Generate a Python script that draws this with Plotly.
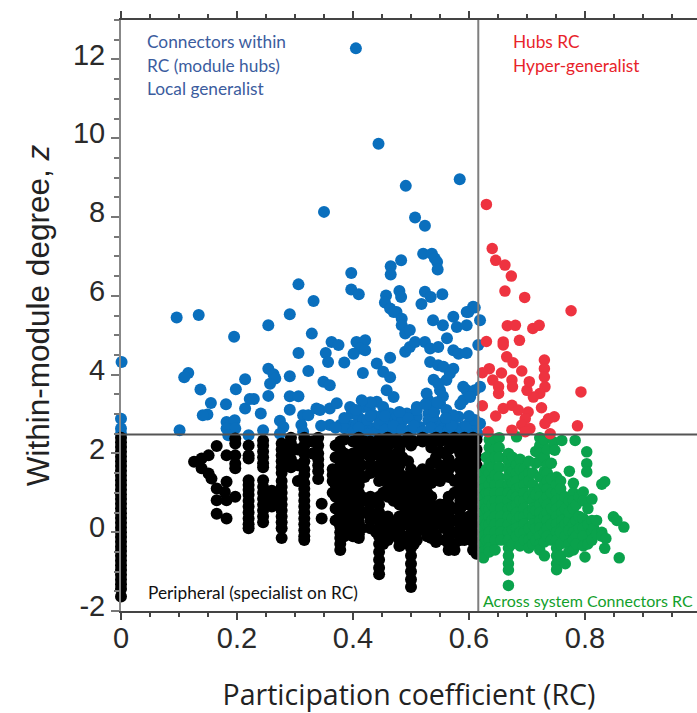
import plotly.graph_objects as go

blue_x = [.405,.444,.491,.584,.35,.507,.524,.521,.536,.541,.545,.546,.483,.465,.465,.397,.306,.397,.41,.457,.455,.48,.483,.524,.534,.554,.518,.332,.607,.596,.464,.475,
 .096,.134,.291,.254,.195,.329,.47,.484,.484,.49,.498,.538,.555,.573,.579,.596,.599,.61,.619,.616,.363,.375,.406,.421,.412,.401,.421,.306,.353,.357,.385,.464,.441,.452,.464,.417,
 .49,.498,.507,.524,.533,.547,.562,.573,.582,.596,.533,.547,.556,.573,.561,.539,.55,.567,.547,.001,.116,.109,.137,.214,.198,.254,.263,.266,.257,.254,.291,.323,.291,.306,.349,.36,
 .155,.149,.141,.181,.214,.222,.229,.241,.291,.101,0,0,0,.182,.196,.182,.197,.185,.22,.245,.274,.28,.274,.314,.323,.311,.314,.337,.343,.36,.372,.36,.378,.395,.386,
 .395,.398,.409,.418,.429,.441,.452,.458,.47,.464,.406,.423,.435,.418,.435,.45,.475,.493,.51,.53,.53,.55,.561,.582,.59,.596,.61,.619,.59,.602,
 .481,.498,.515,.53,.544,.562,.573,.59,.607,.619,.51,.538,.556,.573,.484,.458,.478,.527,.533,.44,.5,.52,.545,.585,.6,.615,.425,.49,.465,
 .345,.37,.385,.40,.41,.425,.445,.455,.47,.485,.495,.505,.52,.535,.55,.565,.58,.595,.61,.43,.455,.48,.51,.54,.57,.6,.525,.555,.585,.43,.415,.405,.545,.56]
blue_y = [12.28,9.86,8.79,8.96,8.13,7.99,7.78,7.07,7.07,6.95,6.86,6.67,6.9,6.75,6.54,6.58,6.29,6.16,6.04,6.01,5.83,6.12,5.97,6.1,5.97,6.04,5.79,5.87,5.72,5.59,5.68,5.59,
 5.45,5.51,5.53,5.25,4.96,5.04,5.59,5.42,5.25,5.04,5.13,5.38,5.25,5.47,5.21,5.25,5.59,5.7,5.38,4.75,4.83,4.75,4.83,4.87,4.66,4.53,4.62,4.55,4.55,4.32,4.31,4.43,4.28,4.07,3.93,4.04,
 4.58,4.7,4.83,4.83,4.66,4.7,4.92,4.62,4.53,4.55,4.32,4.24,4.2,4.15,3.86,3.87,3.6,4.03,3.77,4.32,4.04,3.93,3.62,3.88,3.63,4.15,4.01,3.9,3.77,3.46,3.96,4.09,3.45,3.45,3.82,3.73,
 3.28,2.99,2.97,3.25,3.14,3.38,3.38,3.01,3.11,2.59,2.88,2.63,2.5,2.8,2.84,2.63,2.63,2.46,2.46,2.59,2.83,2.67,2.5,2.97,2.97,2.72,2.55,3.14,3.1,3.14,3.27,2.72,2.72,2.72,2.63,
 3.18,3.01,2.93,3.18,3.14,3.31,3.18,3.6,3.43,3.01,2.72,2.72,2.63,2.84,2.97,2.97,2.93,3.01,3.18,3.35,3.01,3.27,3.1,2.93,3.35,3.6,3.6,3.69,3.69,3.43,
 2.67,2.59,2.67,2.84,2.8,2.84,2.72,2.67,2.63,2.76,2.93,2.93,2.63,2.97,2.8,2.84,2.55,3.52,3.27,2.55,2.55,2.55,2.5,2.5,2.5,2.5,2.5,2.55,2.55,
 2.7,2.65,2.9,2.55,2.65,2.85,2.75,2.6,2.7,2.6,2.9,2.7,2.55,2.65,2.55,2.6,2.55,2.7,2.85,3.3,2.95,3.05,3.1,3.05,2.7,2.95,3.25,3.45,3.25,2.95,3.35,3.1,3.3,2.9]

red_x = [.63,.64,.646,.662,.673,.662,.696,.776,.666,.68,.71,.721,.63,.659,.659,.687,.665,.676,.691,.73,.73,.73,.731,.722,.711,.7,.704,.635,.623,.656,.641,.651,.651,.674,.675,
 .623,.674,.659,.646,.685,.702,.697,.691,.705,.674,.697,.725,.737,.747,.731,.787,.793,.633,.74]
red_y = [8.32,7.2,6.9,6.78,6.5,6.12,5.96,5.62,5.24,5.25,5.17,5.25,4.84,4.83,4.75,4.87,4.45,4.3,4.09,4.37,4.15,3.94,3.69,3.52,3.43,3.6,3.82,4.15,4.05,4.04,3.86,3.69,3.52,3.86,3.69,
 3.21,3.22,3.14,2.95,3.1,3.05,2.88,2.72,2.63,2.59,2.55,3.16,2.88,2.93,2.76,2.7,3.56,2.55,2.5]

black_columns = [
 (0.0, [2.4,2.28,2.16,2.04,1.92,1.8,1.68,1.56,1.44,1.32,1.2,1.08,.96,.84,.72,.6,.48,.36,.24,.12,0,-.12,-.24,-.36,-.48,-.6,-.72,-.84,-.96,-1.08,-1.2,-1.32,-1.44,-1.63]),
 (.126,[1.79]),(.139,[1.87,1.62]),(.151,[1.95,1.49]),(.156,[1.36]),(.165,[2.19,1.11,.81,.47]),
 (.182,[1.95,1.28,.81,.35]),(.179,[1.02]),(.197,[2.38,2.25,1.95,1.74,1.62,.9]),
 (.22,[2.2,1.95,1.87,1.32,1.2,1.08,.95,.8,.65,.5,.35,.2,.1]),
 (.245,[2.33,2.2,2.05,1.9,1.75,1.65,1.32,1.15,1.0,.85,.7,.55,.4,.25]),
 (.26,[1.05,.9,.75,.65]),
 (.277,[2.25,2.1,1.95,1.8,1.65,1.5,1.3,1.15,1.0,.85,.7,.55,.4,.25,.1,-.15]),
 (.293,[2.4,2.25,2.05,1.85,1.65]),(.305,[2.1,1.7,1.3]),
 (.316,[2.4,2.2,2.0,1.8,1.6,1.45,1.25,1.1,.95,.8,.65,.5,.35,.2,.05,-.1,-.2]),
 (.33,[2.3,2.0]),(.34,[2.4,2.2,2.0,1.85,1.7,1.55,1.35]),(.346,[.72,.35]),(.365,[1.6,1.45,1.3,1.0]),
 (.37,[2.2,1.9,1.2,.9,.6,.3]),
 (.378,[2.3,2.1,1.8,1.65,1.5,1.35,1.2,1.05,.9,.75,.6,.45,.3,.15,0,-.15,-.3,-.45]),
 (.385,[2.35,2.0,1.6,1.3,1.0,.7,.4,.1,-.1]),
 (.395,[1.9,1.7,1.5,1.3,1.1,.9,.7,.5,.3]),
 (.40,[2.3,2.0,1.1,.7,.3,.05,-.1]),
 (.41,[2.4,2.2,2.0,1.8,1.6,1.4,1.2,1.0,.8,.6,.4,.25,.1,-.05,-.15]),
 (.415,[2.1,1.7,.9,.5,.1]),
 (.42,[2.3,2.0,1.4,.8,.5]),
 (.43,[2.3,2.1,1.9,1.7,1.5,.9,.7,.5,.3,.1]),
 (.44,[.8,.4,0]),
 (.445,[2.35,2.15,1.95,1.7,1.5,1.3,.9,.7,.5,.3,.1,-.1,-.3,-.5,-.7,-.9,-1.07]),
 (.452,[2.3,2.0,1.7,1.4,1.0,.3,0,-.3]),
 (.46,[2.4,2.2,2.0,1.8,1.6,1.3,1.1,.9,.4,.2,0,-.2]),
 (.465,[2.25,1.7,1.35,1.0,.3,-.1]),
 (.47,[1.9,1.5,1.2,.8,.1]),
 (.475,[2.35,2.0,1.6,.25,-.05]),
 (.48,[2.3,2.1,1.7,1.5,1.3,1.1,.9,.7,.4,.2,0,-.2,-.35]),
 (.485,[1.9,1.2,.8,.3,-.1,-.3]),
 (.49,[2.3,1.4,1.0,.6,.2]),
 (.495,[2.4,1.8,1.2,.5,-.1]),
 (.5,[2.2,1.6,1.4,1.2,1.0,.8,.6,.4,.2,0,-.2,-.4,-.6,-.8,-1.0,-1.2,-1.39]),
 (.505,[2.3,1.5,.9,.5,.1,-.3]),
 (.51,[1.3,1.0,.7,.3,0,-.2]),
 (.515,[1.5,1.1,.6,.2]),
 (.52,[2.4,2.3,1.6,1.4,1.2,.9,.7,.5,.3,.1]),
 (.528,[1.5,1.0,.6,.2,-.1]),
 (.535,[2.35,2.15,1.75,1.5,1.25,.9,.7,.4,.2,0,-.15]),
 (.543,[2.4,1.9,1.4,.6,.2,-.05,-.25]),
 (.55,[2.3,2.05,1.7,1.5,1.3,.7,.5,.3]),
 (.558,[2.4,2.0,1.6,.7,.4,.1,-.2]),
 (.565,[2.3,2.1,1.85,1.6,1.4,.9,.7,.5,.3,.1,-.1,-.3,-.45]),
 (.575,[2.4,2.15,1.7,1.3,1.0,.6,.3,0,-.3,-.45]),
 (.585,[2.3,2.0,1.8,1.6,1.4,1.2,1.0,.8,.6,.4,.2,0,-.2]),
 (.592,[2.4,2.15,1.7,1.3,1.0,.7,.3,0,-.2]),
 (.6,[2.3,2.1,1.9,1.65,1.45,1.1,.9,.7,.4,.1,-.1]),
 (.607,[2.4,2.0,1.5,1.2,.8,.5,.2,0,-.25,-.45]),
 (.613,[2.35,2.1,1.9,1.7,1.5,1.3,1.1,.9,.7,.5,.3,.1,-.1,-.3,-.55]),
]

green_columns = [
 (.625,[1.5,1.3,1.1,.9,.7,.5,.3,.1,-.1,-.3,-.5,-.65]),
 (.63,[1.9,1.6,1.0,.6,.2,-.2]),
 (.635,[2.35,2.15,1.95,1.75,1.5,1.2,1,.8,.6,.4,.2,0,-.2,-.4,-.5]),
 (.64,[2.25,1.65,1.35,.7,.3]),
 (.645,[2.35,2.1,1.9,1.45,1.2,1,.8,.6,.4,.2,0,-.2,-.45]),
 (.652,[2.4,2.15,1.9,1.65,1.4]),
 (.655,[1.2,1,.8,.6,.4,.2,0,-.2]),
 (.668,[2.0,1.8,1.6,1.4,1.2,1,.8,.6,.4,.2,0,-.2,-.4,-.6,-.8,-.96,-1.35]),
 (.675,[1.9,1.55,1.25,.95,.65,.35,.05,-.3]),
 (.682,[2.42,1.7,1.5,1.3,1.1,.9,.7,.5,.3,.1,-.1]),
 (.688,[1.85,1.6,1.15,.8,.4,0,-.35]),
 (.695,[1.6,1.4,1.2,1,.8,.6,.4,.2,0,-.2]),
 (.703,[1.8,1.5,1.3,.9,.5,.1,-.2,-.4]),
 (.71,[1.5,1.2,1,.8,.6,.4,.2,-.1,-.3]),
 (.715,[2.05,1.75,.95,.55,.1,-.2]),
 (.722,[2.4,2.2,2,1.8,1.4,1.1,.9,.7,.5,.3,.1,-.1,-.3,-.45]),
 (.73,[2.35,1.9,1.55,1.2,.8,.4,0,-.25,-.6]),
 (.735,[2.1,1.7,1.5,1.3,1.1,.9,.7,.5,.3,.1,-.1]),
 (.742,[1.75,1.35,1.0,.6,.2,-.2]),
 (.751,[1.4,1.2,1,.8,.6,.4,.2,0,-.2,-.4,-.6,-.8,-.95]),
 (.746,[2.29]),(.748,[2.08]),(.76,[2.33,.9,.7,.5,.3,.1]),(.758,[1.3,1.1,0,-.3,-.6]),
 (.766,[.9,.6,.2,-.1,-.8]),(.772,[.3,.05,-.3,-.5]),(.773,[1.55,.8,.5]),(.78,[1.24,1,.8,.6,.2,0,-.2,-.45]),
 (.783,[2.33]),(.785,[.7,.3,-.1,-.3]),(.79,[.9,.4,.1]),(.797,[1.02,.8,.35,.1,-.1,-.35]),(.8,[-.63]),
 (.803,[2.04,1.74,1.53]),(.805,[.6,.2,-.3]),(.812,[.84,.3,0,-.2]),(.815,[.1]),(.82,[.3,-.05]),(.829,[1.22,0,-.1]),
 (.834,[1.28,-.41]),(.836,[-.16]),(.849,[.39]),(.859,[-.65]),(.867,[.13]),(.855,[.3]),
]

black_x = [x for x, ys in black_columns for _ in ys]
black_y = [y for _, ys in black_columns for y in ys]
green_x = [x for x, ys in green_columns for _ in ys]
green_y = [y for _, ys in green_columns for y in ys]

x_ticks = [0, .2, .4, .6, .8]
x_labels = ["0", "0.2", "0.4", "0.6", "0.8"]
y_ticks = [-2, 0, 2, 4, 6, 8, 10, 12]
y_labels = ["-2", "0", "2", "4", "6", "8", "10", "12"]
pc_threshold = 0.616
z_threshold = 2.48

fig = go.Figure()
for xs, ys, col, sz in [(blue_x, blue_y, "#0a6fbd", 12), (black_x, black_y, "#000000", 12),
                        (green_x, green_y, "#0aa24c", 11.5), (red_x, red_y, "#ee3340", 11.5)]:
    fig.add_trace(go.Scatter(x=xs, y=ys, mode="markers", cliponaxis=False,
                             marker=dict(color=col, size=sz, line=dict(width=0)),
                             showlegend=False, hoverinfo="skip"))

fig.add_shape(type="line", xref="x", yref="paper", x0=pc_threshold, x1=pc_threshold, y0=0, y1=1,
              line=dict(color="#7f7f7f", width=2), layer="above")
fig.add_shape(type="line", xref="paper", yref="y", x0=0, x1=1, y0=z_threshold, y1=z_threshold,
              line=dict(color="#555555", width=2), layer="above")

notes = [
 (145, 42, "Connectors within", "#3b5c9e", 17.3), (145, 65, "RC (module hubs)", "#3b5c9e", 17.3), (145, 88, "Local generalist", "#3b5c9e", 17.3),
 (511, 42, "Hubs RC", "#e8232a", 17.3), (511, 65, "Hyper-generalist", "#e8232a", 17.3),
 (146, 592, "Peripheral (specialist on RC)", "#111111", 17.3), (481, 600, "Across system Connectors RC", "#12a02c", 16),
]
for px, py, t, c, fs in notes:
    fig.add_annotation(text=t, xref="paper", yref="paper", x=(px-121)/576, y=(611-py)/591,
                       xanchor="left", yanchor="middle", showarrow=False,
                       font=dict(family="Lato", size=fs, color=c))

fig.update_layout(
    width=697, height=713, margin=dict(l=121, r=0, t=20, b=102), plot_bgcolor="white", paper_bgcolor="white",
    xaxis=dict(range=[0, .9931], tickvals=x_ticks, ticktext=x_labels, ticks="outside", ticklen=7, tickwidth=1.5,
               tickcolor="#444", showgrid=False, zeroline=False, showline=True, linecolor="#444", linewidth=2, mirror="ticks",
               ticklabelstandoff=-7,
               tickfont=dict(family="Liberation Sans", size=29, color="#2a2a2a"),
               minor=dict(dtick=.05, tick0=0, ticks="outside", ticklen=4, tickwidth=1.5, tickcolor="#444", showgrid=False),
               title=dict(text="Participation coefficient (RC)", standoff=32,
                          font=dict(family="Open Sans", size=28.5, color="#222"))),
    yaxis=dict(range=[-2, 13], tickvals=y_ticks, ticktext=y_labels, ticks="outside", ticklen=8, tickwidth=1.5,
               tickcolor="#777", showgrid=False, zeroline=False, showline=True, linecolor="#888", linewidth=2,
               ticklabelshift=-5,
               tickfont=dict(family="Liberation Sans", size=29, color="#2a2a2a"),
               minor=dict(dtick=.5, tick0=0, ticks="outside", ticklen=5, tickwidth=1.5, tickcolor="#777", showgrid=False),
               title=dict(text="Within-module degree, <i>z</i>", standoff=14,
                          font=dict(family="Liberation Sans", size=31.5, color="#222"))),
)
fig.write_html("out.html", config=dict(displayModeBar=False),
               post_script="document.body.style.margin='0';document.body.style.overflow='hidden';")
